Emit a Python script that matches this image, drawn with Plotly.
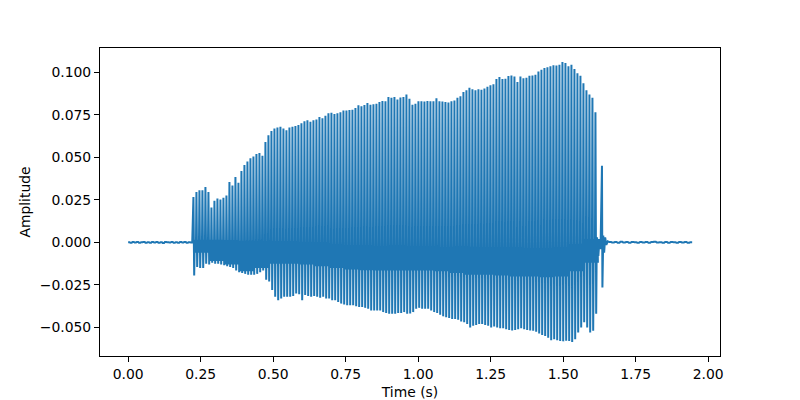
import numpy as np
import plotly.graph_objects as go

# ---------------- data ----------------
# glottal pulses: onset time and spacing of the voiced section (seconds)
pulse_onset_s = 0.2252
pulse_period_s = 0.010345

# peak (top) value of each pulse
pulse_top = [
    0.0267, 0.0296, 0.0306, 0.0306, 0.0325, 0.0296, 0.0205, 0.0245, 0.0258, 0.0252,
    0.0262, 0.0276, 0.0355, 0.0335, 0.0385, 0.0350, 0.0420, 0.0455, 0.0475, 0.0495,
    0.0505, 0.0520, 0.0525, 0.0510, 0.0590, 0.0630, 0.0655, 0.0670, 0.0675, 0.0680,
    0.0670, 0.0660, 0.0675, 0.0680, 0.0685, 0.0690, 0.0700, 0.0712, 0.0718, 0.0710,
    0.0718, 0.0722, 0.0737, 0.0730, 0.0745, 0.0760, 0.0762, 0.0755, 0.0760, 0.0765,
    0.0776, 0.0775, 0.0778, 0.0780, 0.0790, 0.0806, 0.0800, 0.0808, 0.0820, 0.0810,
    0.0812, 0.0815, 0.0825, 0.0831, 0.0830, 0.0855, 0.0850, 0.0855, 0.0840, 0.0852,
    0.0855, 0.0870, 0.0845, 0.0810, 0.0815, 0.0830, 0.0830, 0.0828, 0.0832, 0.0830,
    0.0830, 0.0847, 0.0830, 0.0828, 0.0825, 0.0822, 0.0830, 0.0835, 0.0850, 0.0859,
    0.0884, 0.0895, 0.0910, 0.0900, 0.0895, 0.0900, 0.0898, 0.0905, 0.0915, 0.0924,
    0.0930, 0.0960, 0.0973, 0.0960, 0.0962, 0.0978, 0.0982, 0.0975, 0.0943, 0.0976,
    0.0965, 0.0968, 0.0980, 0.0982, 0.0985, 0.1005, 0.1015, 0.1025, 0.1030, 0.1035,
    0.1041, 0.1040, 0.1045, 0.1060, 0.1055, 0.1035, 0.1045, 0.1020, 0.0995, 0.0980,
    0.0935, 0.0895, 0.0870, 0.0850, 0.0765,
]

# trough (bottom) value of each pulse
pulse_trough = [
    -0.0194, -0.0145, -0.0150, -0.0150, -0.0125, -0.0130, -0.0120, -0.0125, -0.0125, -0.0130,
    -0.0135, -0.0140, -0.0145, -0.0150, -0.0165, -0.0175, -0.0180, -0.0185, -0.0190, -0.0190,
    -0.0190, -0.0185, -0.0175, -0.0165, -0.0220, -0.0230, -0.0280, -0.0320, -0.0340, -0.0330,
    -0.0320, -0.0320, -0.0320, -0.0315, -0.0300, -0.0305, -0.0340, -0.0310, -0.0315, -0.0320,
    -0.0315, -0.0320, -0.0325, -0.0320, -0.0330, -0.0330, -0.0340, -0.0340, -0.0350, -0.0360,
    -0.0365, -0.0370, -0.0370, -0.0370, -0.0375, -0.0380, -0.0380, -0.0385, -0.0390, -0.0400,
    -0.0400, -0.0400, -0.0400, -0.0410, -0.0415, -0.0420, -0.0420, -0.0420, -0.0415, -0.0415,
    -0.0410, -0.0420, -0.0418, -0.0410, -0.0390, -0.0385, -0.0390, -0.0390, -0.0390, -0.0400,
    -0.0410, -0.0415, -0.0425, -0.0435, -0.0440, -0.0445, -0.0450, -0.0450, -0.0455, -0.0465,
    -0.0470, -0.0480, -0.0500, -0.0490, -0.0485, -0.0480, -0.0480, -0.0485, -0.0490, -0.0500,
    -0.0495, -0.0500, -0.0505, -0.0505, -0.0510, -0.0515, -0.0518, -0.0515, -0.0510, -0.0505,
    -0.0510, -0.0515, -0.0518, -0.0520, -0.0525, -0.0535, -0.0545, -0.0550, -0.0560, -0.0575,
    -0.0570, -0.0575, -0.0580, -0.0582, -0.0578, -0.0580, -0.0586, -0.0570, -0.0530, -0.0500,
    -0.0470, -0.0500, -0.0530, -0.0520, -0.0420,
]

# level band the signal oscillates in between pulses (one value per 5 pulses)
band_group_size = 5
band_hi = [0.0015, 0.0015, 0.0012, 0.0010, 0.0008, 0.0006, 0.0005, 0.0003, 0.0000,
           -0.0010, -0.0016, -0.0020, -0.0025, -0.0030, -0.0030, -0.0030, -0.0030,
           -0.0025, -0.0025, -0.0030, -0.0030, -0.0030, -0.0035, -0.0035, -0.0030,
           -0.0010, 0.0020]
band_lo = [-0.0060, -0.0110, -0.0130, -0.0170, -0.0150, -0.0125, -0.0125, -0.0130,
           -0.0140, -0.0150, -0.0160, -0.0163, -0.0165, -0.0165, -0.0165, -0.0165,
           -0.0170, -0.0180, -0.0190, -0.0190, -0.0195, -0.0200, -0.0200, -0.0205,
           -0.0200, -0.0170, -0.0120]

# release after the last pulse (final spike and decay)
tail_t = [1.6170, 1.6215, 1.6255, 1.6290, 1.6340, 1.6355, 1.6385, 1.6415, 1.6450, 1.6490, 1.6540]
tail_v = [0.0030, -0.0080, 0.0020, -0.0040, 0.0450, -0.0265, 0.0040, -0.0060, 0.0030, -0.0015, 0.0006]

# silence before and after the utterance (tiny noise)
pre_span = (0.0, 0.221)
pre_noise = [0.0001, -0.0002, 0.0002, -0.0001, 0.0002, -0.0002, 0.0001, 0.0003, -0.0002, 0.0001,
             -0.0002, 0.0002, -0.0001, 0.0002, -0.0002, 0.0001, -0.0003, 0.0002, 0.0001, -0.0001,
             0.0002, -0.0002, 0.0001, -0.0002, 0.0002, -0.0001, 0.0003, -0.0002, 0.0001, -0.0001]
post_span = (1.659, 1.945)
post_noise = [0.0003, -0.0001, 0.0002, -0.0002, 0.0004, -0.0001, 0.0002, -0.0002, 0.0003, 0.0001,
              -0.0002, 0.0002, -0.0001, 0.0003, -0.0002, 0.0002, 0.0004, -0.0001, 0.0001, -0.0002,
              0.0003, -0.0002, 0.0002, 0.0001, -0.0002, 0.0003, -0.0001, 0.0002, -0.0002, 0.0001]

x_ticks = [0.0, 0.25, 0.5, 0.75, 1.0, 1.25, 1.5, 1.75, 2.0]
x_tick_labels = ["0.00", "0.25", "0.50", "0.75", "1.00", "1.25", "1.50", "1.75", "2.00"]
y_ticks = [-0.05, -0.025, 0.0, 0.025, 0.05, 0.075, 0.1]
y_tick_labels = ["\u22120.050", "\u22120.025", "0.000", "0.025", "0.050", "0.075", "0.100"]

# ---------------- build the polyline ----------------
t, v = [], []
for tt, vv in zip(np.linspace(pre_span[0], pre_span[1], len(pre_noise) * 3), np.repeat(pre_noise, 3)):
    t.append(tt)
    v.append(vv)

phase = [0.0, 0.25, 0.45, 0.6, 0.72, 0.82]
for i, (top, tr) in enumerate(zip(pulse_top, pulse_trough)):
    g = i // band_group_size
    t0 = pulse_onset_s + i * pulse_period_s
    vals = [top, tr, band_hi[g], band_lo[g], band_hi[g], band_lo[g]]
    for ph, vv in zip(phase, vals):
        t.append(t0 + ph * pulse_period_s)
        v.append(vv)

t.extend(tail_t)
v.extend(tail_v)

for tt, vv in zip(np.linspace(post_span[0], post_span[1], len(post_noise) * 3), np.repeat(post_noise, 3)):
    t.append(tt)
    v.append(vv)

# ---------------- figure ----------------
fig = go.Figure(
    go.Scatter(x=t, y=v, mode="lines",
               line=dict(color="#1f77b4", width=2.0, simplify=False),
               hoverinfo="skip")
)

axis_common = dict(
    ticks="outside", ticklen=5, tickwidth=1.1, tickcolor="black",
    showline=True, linecolor="black", linewidth=1.1, mirror=True,
    showgrid=False, zeroline=False, automargin=False,
    tickfont=dict(family="DejaVu Sans", size=13.9, color="black"),
)

fig.update_layout(
    width=800, height=400,
    margin=dict(l=100, r=80, t=48, b=44),
    paper_bgcolor="white", plot_bgcolor="white",
    showlegend=False,
    font=dict(family="DejaVu Sans", size=13.9, color="black"),
)
fig.update_xaxes(range=[-0.097, 2.041], tickvals=x_ticks, ticktext=x_tick_labels,
                 title=dict(text="Time (s)", standoff=7,
                            font=dict(family="DejaVu Sans", size=13.9, color="black")),
                 **axis_common)
fig.update_yaxes(range=[-0.0668, 0.1143], tickvals=y_ticks, ticktext=y_tick_labels,
                 title=dict(text="Amplitude", standoff=5,
                            font=dict(family="DejaVu Sans", size=13.9, color="black")),
                 **axis_common)

fig.write_html("out.html")
